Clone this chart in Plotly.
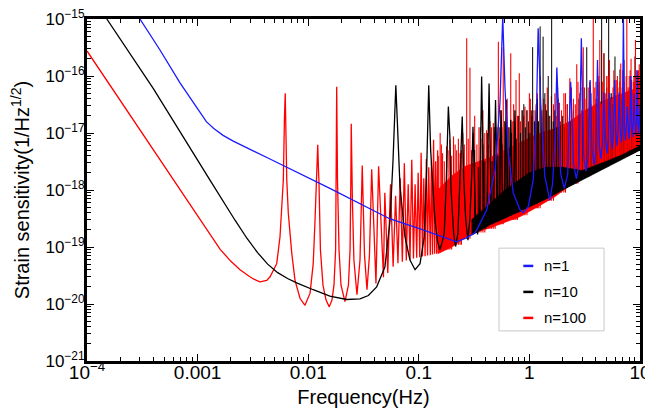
import plotly.graph_objects as go

# ---------------- data ----------------
# n=1 (blue) curve
blue_f = [3.01e-4, 4.57e-4, 6.93e-4, 8.5e-4, 1.05e-3, 1.2e-3, 1.4e-3, 1.7e-3, 2.1e-3, 3.0e-3, 4.37e-3, 0.0157,
          0.055, 0.0984, 0.141, 0.2, 0.22, 0.269, 0.322, 0.334, 0.411, 0.489, 0.542, 0.574,
          0.601, 0.644, 0.714, 0.822, 0.881, 0.977, 1.084, 1.164, 1.20, 1.265, 1.38, 1.53,
          1.62, 1.72, 1.77, 1.92, 2.07, 2.22, 2.36, 2.51, 2.66, 2.81, 2.95, 3.10, 3.25, 3.40,
          3.54, 3.69, 3.84, 3.99, 4.13, 4.28, 4.43, 4.58, 4.72, 4.87, 5.02, 5.17, 5.31, 5.46,
          5.61, 5.76, 5.90, 6.05, 6.20, 6.35, 6.49, 6.64, 6.79, 6.94, 7.08, 7.23, 7.38, 7.53,
          7.67, 7.82, 7.97, 8.12, 8.26, 8.41, 8.56, 8.71, 8.85, 9.00, 9.15, 9.30, 9.44, 9.59,
          9.74, 9.90, 10.0]
blue_h = [1.0e-15, 2.86e-16, 7.6e-17, 4.2e-17, 2.24e-17, 1.58e-17, 1.2e-17, 9.1e-18, 7.2e-18, 5.1e-18, 3.6e-18, 1.07e-18,
          3.1e-19, 2.14e-19, 1.66e-19, 1.29e-19, 1.23e-19, 1.45e-19, 1.78e-19, 2.0e-19, 4.47e-19, 2.24e-18, 3.4e-17, 1.1e-15,
          6.5e-17, 4.5e-18, 8.9e-19, 4.5e-19, 4.0e-19, 5.1e-19, 1.5e-18, 3.4e-17, 6.9e-16, 3.4e-17, 1.7e-18, 6.6e-19,
          1.3e-18, 1.0e-17, 1.41e-16, 1.9e-18, 1.07e-18, 1.9e-18, 7.9e-17, 2.8e-18, 1.58e-18, 2.8e-18, 4.6e-16, 3.8e-18, 2.14e-18, 3.8e-18,
          8.5e-17, 4.9e-18, 2.75e-18, 4.9e-18, 1.9e-16, 6.3e-18, 3.55e-18, 6.3e-18, 5.2e-17, 7.8e-18, 4.4e-18, 7.8e-18, 5.0e-17, 9.3e-18,
          5.25e-18, 9.3e-18, 8.5e-17, 1.07e-17, 6.0e-18, 1.07e-17, 5.2e-17, 1.2e-17, 6.8e-18, 1.2e-17, 1.1e-15, 1.32e-17, 7.4e-18, 1.32e-17,
          2.9e-17, 1.41e-17, 7.9e-18, 1.41e-17, 1.0e-16, 1.51e-17, 8.5e-18, 1.51e-17, 5.0e-17, 1.62e-17, 9.1e-18, 1.62e-17, 1.26e-16, 1.7e-17,
          9.5e-18, 1.7e-17, 3.0e-17]

# n=10 (black) curve, resolved part
black_f = [1.51e-4, 3.98e-4, 1.29e-3, 1.7e-3, 2.18e-3, 2.8e-3, 3.5e-3, 4.3e-3, 5.3e-3, 6.5e-3, 7.87e-3,
           0.0111, 0.0157, 0.0223, 0.0294, 0.035, 0.0416, 0.0494, 0.055, 0.0585, 0.062, 0.0676, 0.075,
           0.0832, 0.0925, 0.1026, 0.112, 0.1178, 0.123, 0.128, 0.131, 0.140, 0.148, 0.155, 0.163,
           0.170, 0.1766, 0.185, 0.191, 0.195, 0.2065, 0.215, 0.226, 0.236, 0.247, 0.255, 0.265,
           0.278, 0.29, 0.30, 0.309, 0.325, 0.34, 0.355, 0.370, 0.388, 0.401, 0.414, 0.432, 0.451,
           0.463, 0.475, 0.494, 0.513, 0.525, 0.537, 0.555, 0.575, 0.586, 0.597, 0.617, 0.637,
           0.648, 0.659, 0.679, 0.70, 0.71, 0.72, 0.740, 0.771]
black_h = [1.0e-15, 6.0e-17, 1.51e-18, 6.3e-19, 2.95e-19, 1.41e-19, 7.9e-20, 5.0e-20, 3.55e-20, 2.8e-20, 2.35e-20,
           1.78e-20, 1.38e-20, 1.2e-20, 1.23e-20, 1.41e-20, 2.0e-20, 4.47e-20, 2.95e-19, 3.4e-18, 6.9e-17, 1.15e-18, 1.51e-19,
           5.9e-20, 4.0e-20, 5.1e-20, 1.51e-19, 2.24e-18, 6.9e-17, 5.0e-18, 2.24e-18, 2.95e-19, 1.23e-19, 8.9e-20, 1.23e-19,
           1.78e-19, 1.15e-18, 2.9e-17, 8.7e-18, 1.15e-18, 1.74e-19, 1.02e-19, 1.74e-19, 2.24e-18, 1.95e-17, 1.6e-18, 3.2e-19,
           1.32e-19, 3.2e-19, 1.6e-18, 1.29e-17, 4.0e-19, 1.66e-19, 4.0e-19, 9.8e-17, 5.0e-19, 2.1e-19, 5.0e-19, 7.4e-17, 5.6e-19,
           2.5e-19, 5.6e-19, 3.8e-17, 6.3e-19, 2.8e-19, 6.3e-19, 2.5e-17, 7.1e-19, 3.2e-19, 7.1e-19, 3.8e-17, 7.9e-19,
           3.5e-19, 7.9e-19, 1.7e-17, 7.9e-19, 3.8e-19, 7.9e-19, 2.5e-17, 4.0e-19]

# n=10 dense region: floor / upper edge of the dark base, and visible spikes
black_band_f = [0.30, 0.45, 0.6, 0.771, 1.0, 1.4, 2.0, 3.0, 5.0, 7.0, 10.0]
black_band_low = [1.6e-19, 2.5e-19, 3.2e-19, 4.0e-19, 5.0e-19, 6.9e-19, 1.0e-18, 1.5e-18, 2.5e-18, 3.5e-18, 5.0e-18]
black_band_high = [3.0e-19, 6.0e-19, 1.0e-18, 1.4e-18, 2.0e-18, 2.5e-18, 2.5e-18, 2.2e-18, 3.2e-18, 4.2e-18, 6.0e-18]
black_spike_f = [0.32, 0.345, 0.36, 0.38, 0.395, 0.42, 0.445, 0.46, 0.48, 0.505,
                 0.52, 0.54, 0.565, 0.60, 0.625, 0.655, 0.69, 0.73, 0.76,
                 0.80, 0.83, 0.86, 0.89, 0.92, 0.95, 0.98, 1.01, 1.04, 1.07,
                 1.11, 1.15, 1.18, 1.21, 1.25, 1.29, 1.33, 1.38, 1.43, 1.48,
                 1.53, 1.59, 1.64, 1.70, 1.76, 1.82, 1.9, 2.0, 2.1, 2.2,
                 2.35, 2.5, 2.65, 2.8, 3.0, 3.15, 3.30, 3.45, 3.6, 3.8,
                 4.0, 4.15, 4.3, 4.5, 4.73, 5.0, 5.21, 5.5, 5.7, 5.94,
                 6.3, 6.59, 6.9, 7.16, 7.6, 8.0, 8.41, 8.7, 9.0, 9.5, 9.8]
black_spike_h = [5.0e-18, 2.5e-18, 1.26e-17, 6.3e-18, 3.2e-18, 1.0e-17, 5.0e-18, 3.2e-18, 1.26e-17, 7.9e-18,
                 4.0e-18, 1.26e-17, 6.3e-18, 1.6e-17, 7.9e-18, 1.26e-17, 1.0e-17, 1.6e-17, 7.9e-18,
                 2.0e-17, 1.0e-17, 2.5e-17, 3.2e-17, 1.26e-17, 2.5e-17, 1.6e-17, 1.0e-17, 2.5e-17, 3.2e-16,
                 1.6e-17, 2.5e-17, 4.0e-17, 1.6e-17, 7.4e-16, 2.0e-17, 4.9e-16, 5.0e-17, 2.5e-17, 1.0e-16,
                 2.0e-17, 1.26e-15, 1.6e-17, 2.5e-17, 1.26e-17, 4.0e-17, 1.6e-17, 2.0e-17, 1.26e-17, 3.2e-17,
                 1.6e-17, 2.5e-17, 1.26e-17, 4.0e-17, 6.3e-17, 1.6e-17, 3.2e-16, 2.0e-17, 5.0e-17, 2.5e-17,
                 4.0e-17, 2.0e-17, 7.9e-17, 1.26e-15, 2.5e-16, 6.3e-17, 1.26e-15, 5.0e-17, 3.2e-17, 2.2e-16,
                 6.3e-17, 1.3e-16, 4.0e-17, 1.9e-16, 5.0e-17, 6.3e-17, 8.5e-17, 4.0e-17, 2.2e-16, 7.9e-17, 5.0e-17]
black_spike_base = [1.8e-19, 1.9e-19, 2.0e-19, 2.1e-19, 2.2e-19, 2.3e-19, 2.5e-19, 2.6e-19, 2.7e-19, 2.8e-19,
                    2.9e-19, 3.0e-19, 3.1e-19, 3.2e-19, 3.3e-19, 3.5e-19, 3.6e-19, 3.8e-19, 3.9e-19,
                    4.0e-19, 4.2e-19, 4.4e-19, 4.5e-19, 4.7e-19, 4.8e-19, 5.0e-19, 5.0e-19, 5.2e-19, 5.3e-19,
                    5.5e-19, 5.7e-19, 5.8e-19, 6.0e-19, 6.2e-19, 6.4e-19, 6.6e-19, 6.8e-19, 7.0e-19, 7.3e-19,
                    7.5e-19, 7.8e-19, 8.1e-19, 8.4e-19, 8.7e-19, 9.0e-19, 9.5e-19, 1.0e-18, 1.05e-18, 1.1e-18,
                    1.2e-18, 1.25e-18, 1.3e-18, 1.4e-18, 1.5e-18, 1.6e-18, 1.65e-18, 1.7e-18, 1.8e-18, 1.9e-18,
                    2.0e-18, 2.1e-18, 2.2e-18, 2.3e-18, 2.4e-18, 2.5e-18, 2.6e-18, 2.8e-18, 2.9e-18, 3.0e-18,
                    3.2e-18, 3.3e-18, 3.5e-18, 3.6e-18, 3.8e-18, 4.0e-18, 4.2e-18, 4.4e-18, 4.5e-18, 4.8e-18, 4.9e-18]

# n=100 (red) curve, resolved part
red_f = [1.0e-4, 3.0e-4, 6.93e-4, 1.05e-3, 1.3e-3, 1.6e-3, 2.0e-3, 2.42e-3, 2.9e-3, 3.19e-3, 3.66e-3, 4.22e-3, 4.52e-3,
         5.19e-3, 5.56e-3, 5.75e-3, 5.96e-3, 6.1e-3, 6.2e-3, 6.4e-3, 6.61e-3, 7.1e-3, 7.6e-3,
         8.43e-3, 9.35e-3, 0.0104, 0.0111, 0.0115, 0.0119, 0.0122, 0.0124, 0.0125, 0.0129,
         0.0136, 0.0145, 0.0155, 0.0164, 0.0171, 0.0177, 0.0179, 0.0181, 0.0184, 0.019,
         0.0198, 0.0215, 0.0231, 0.0239, 0.0243, 0.0245, 0.0251, 0.0259, 0.0276, 0.0294,
         0.0303, 0.0308, 0.0323, 0.034, 0.0358, 0.0375, 0.041, 0.0433, 0.0479, 0.0493,
         0.0524, 0.0555, 0.0586, 0.0617, 0.0648, 0.0679, 0.071, 0.074, 0.0771, 0.0802,
         0.0833, 0.0864, 0.0895, 0.0926, 0.0957, 0.0987, 0.102, 0.105, 0.108, 0.111,
         0.114, 0.117, 0.120, 0.123, 0.127, 0.130, 0.133, 0.136, 0.139, 0.142, 0.145, 0.148, 0.151]
red_h = [2.75e-16, 1.15e-17, 1.0e-18, 2.95e-19, 1.58e-19, 9.1e-20, 5.6e-20, 4.0e-20, 3.1e-20, 2.75e-20, 2.45e-20, 2.6e-20, 3.0e-20,
         5.1e-20, 1.51e-19, 4.47e-19, 1.51e-18, 1.9e-17, 5.0e-17, 1.51e-18, 3.9e-19, 7.8e-20, 2.6e-20,
         1.26e-20, 9.5e-21, 1.55e-20, 5.1e-20, 2.6e-19, 1.15e-18, 6.2e-18, 2.1e-18, 1.51e-18, 8.9e-20,
         2.14e-20, 1.17e-20, 8.9e-21, 1.17e-20, 2.14e-20, 8.9e-20, 1.51e-18, 6.5e-17, 1.51e-18, 8.9e-20,
         2.14e-20, 1.1e-20, 2.14e-20, 8.9e-20, 1.51e-18, 1.45e-17, 6.6e-19, 5.9e-20, 1.45e-20, 5.9e-20,
         6.6e-19, 2.7e-18, 7.2e-20, 1.78e-20, 7.2e-20, 2.3e-18, 2.3e-20, 2.6e-18, 2.95e-20, 8.9e-19,
         3.5e-20, 1.26e-18, 4.5e-20, 7.9e-19, 5.2e-20, 1.6e-18, 5.5e-20, 2.95e-18, 5.8e-20, 1.26e-18,
         6.0e-20, 3.4e-18, 6.3e-20, 1.26e-18, 6.5e-20, 2.0e-18, 6.6e-20, 4.5e-18, 6.8e-20, 1.6e-18,
         6.9e-20, 3.5e-18, 7.1e-20, 2.5e-18, 7.2e-20, 3.2e-18, 7.4e-20, 7.6e-18, 7.6e-20, 3.2e-18, 7.6e-20, 5.0e-18, 7.9e-20]

# n=100 dense region: floor / upper edge of the solid band, and visible spikes
red_band_f = [0.148, 0.2, 0.262, 0.322, 0.45, 0.577, 0.822, 1.17, 1.7, 2.33, 3.2, 4.35, 6.2, 8.0, 10.0]
red_band_low = [7.6e-20, 1.0e-19, 1.45e-19, 1.78e-19, 2.2e-19, 2.6e-19, 3.4e-19, 5.0e-19, 7.6e-19,
                1.2e-18, 1.78e-18, 2.5e-18, 3.6e-18, 4.7e-18, 5.6e-18]
red_band_high = [1.0e-18, 1.8e-18, 2.6e-18, 3.0e-18, 3.8e-18, 4.8e-18, 6.8e-18, 9.5e-18, 1.2e-17,
                 1.6e-17, 2.5e-17, 3.5e-17, 4.5e-17, 5.5e-17, 6.3e-17]
red_spike_f = [0.150, 0.156, 0.160, 0.164, 0.170, 0.178, 0.184, 0.191, 0.198, 0.206,
               0.213, 0.22, 0.228, 0.236, 0.243, 0.25, 0.258, 0.271, 0.28, 0.29,
               0.30, 0.31, 0.32, 0.335, 0.35, 0.365, 0.38, 0.395, 0.41, 0.425,
               0.44, 0.455, 0.472, 0.49, 0.51, 0.524, 0.535, 0.55, 0.565, 0.58,
               0.6, 0.63, 0.65, 0.678, 0.7, 0.72, 0.74, 0.757, 0.78, 0.81,
               0.83, 0.86, 0.89, 0.912, 0.95, 1.0, 1.05, 1.1, 1.15, 1.2,
               1.25, 1.3, 1.4, 1.5, 1.58, 1.65, 1.75, 1.87, 1.95, 2.05,
               2.2, 2.32, 2.5, 2.6, 2.68, 2.85, 2.95, 3.07, 3.25, 3.4,
               3.6, 3.78, 4.0, 4.15, 4.33, 4.5, 4.7, 4.85, 5.0, 5.3,
               5.5, 5.7, 5.9, 6.1, 6.4, 6.7, 6.9, 7.2, 7.4, 7.6,
               7.8, 8.0, 8.3, 8.5, 8.7, 8.9, 9.1, 9.4, 9.7, 9.9,
               1.02, 1.18, 1.35, 1.45, 1.7, 1.8, 2.12, 2.4, 2.75, 3.15,
               3.5, 3.9, 4.25, 4.6, 5.15, 5.8, 6.25, 6.55, 7.0, 7.5,
               8.15, 8.8, 9.25, 9.55, 9.85]
red_spike_h = [4.0e-18, 1.0e-17, 6.3e-18, 4.4e-18, 3.2e-18, 5.8e-18, 5.0e-18, 7.6e-18, 4.0e-18, 8.7e-18,
               6.3e-18, 5.0e-18, 7.9e-18, 4.4e-18, 5.0e-18, 1.0e-17, 6.3e-18, 4.6e-16, 7.9e-18, 1.4e-16,
               5.0e-18, 1.0e-17, 2.0e-17, 6.3e-18, 1.26e-17, 7.9e-18, 2.5e-17, 1.0e-17, 1.12e-17, 6.3e-18,
               1.6e-17, 1.26e-17, 1.5e-17, 1.0e-17, 1.26e-17, 4.0e-16, 7.9e-18, 2.5e-17, 1.26e-17, 3.2e-16,
               1.6e-17, 4.0e-17, 1.26e-17, 2.5e-16, 1.6e-17, 3.2e-17, 1.26e-17, 8.5e-17, 2.0e-17, 1.12e-16,
               1.6e-17, 2.5e-17, 2.0e-17, 2.9e-17, 2.5e-17, 5.0e-17, 2.0e-17, 2.5e-17, 3.2e-17, 1.6e-17,
               1.0e-16, 2.5e-17, 3.2e-17, 2.0e-17, 4.4e-17, 3.2e-17, 2.0e-17, 3.4e-17, 2.5e-17, 5.0e-17,
               3.2e-17, 9.1e-17, 4.0e-17, 3.2e-17, 1.6e-16, 5.0e-17, 2.5e-17, 3.2e-16, 4.0e-17, 6.3e-17,
               3.2e-17, 1.26e-15, 7.9e-17, 4.0e-17, 4.3e-16, 3.2e-17, 2.5e-16, 5.0e-17, 1.0e-16, 1.9e-16,
               4.0e-17, 6.3e-17, 5.0e-17, 8.5e-17, 4.5e-17, 1.66e-16, 6.3e-17, 7.9e-17, 5.0e-17, 1.26e-15,
               6.3e-17, 1.0e-16, 2.0e-16, 5.6e-17, 7.9e-17, 7.9e-17, 4.3e-16, 6.3e-17, 1.26e-16, 7.9e-17,
               4.0e-17, 5.0e-17, 4.0e-17, 6.3e-17, 5.0e-17, 6.3e-17, 5.0e-17, 6.3e-17, 7.9e-17, 6.3e-17,
               7.9e-17, 6.3e-17, 1.0e-16, 7.9e-17, 1.0e-16, 1.26e-16, 1.0e-16, 7.9e-17, 1.26e-16, 1.0e-16,
               1.26e-16, 1.0e-16, 1.26e-16, 1.0e-16, 1.6e-16]
red_spike_base = [8.0e-20, 8.0e-20, 9.0e-20, 9.0e-20, 9.0e-20, 9.0e-20, 9.0e-20, 9.0e-20, 9.0e-20, 1.1e-19,
                  1.1e-19, 1.1e-19, 1.1e-19, 1.1e-19, 1.1e-19, 1.4e-19, 1.4e-19, 1.4e-19, 1.4e-19, 1.4e-19,
                  1.8e-19, 1.8e-19, 1.8e-19, 1.8e-19, 1.8e-19, 1.8e-19, 1.8e-19, 1.8e-19, 2.1e-19, 2.1e-19,
                  2.1e-19, 2.1e-19, 2.1e-19, 2.1e-19, 2.5e-19, 2.5e-19, 2.5e-19, 2.5e-19, 2.5e-19, 2.5e-19,
                  3.0e-19, 3.0e-19, 3.0e-19, 3.0e-19, 3.0e-19, 3.0e-19, 3.0e-19, 3.0e-19, 3.0e-19, 3.6e-19,
                  3.6e-19, 3.6e-19, 3.6e-19, 3.6e-19, 3.6e-19, 4.8e-19, 4.8e-19, 4.8e-19, 4.8e-19, 4.8e-19,
                  4.8e-19, 6.5e-19, 6.5e-19, 6.5e-19, 6.5e-19, 6.5e-19, 9.0e-19, 9.0e-19, 9.0e-19, 9.0e-19,
                  1.3e-18, 1.3e-18, 1.3e-18, 1.3e-18, 1.3e-18, 1.7e-18, 1.7e-18, 1.7e-18, 1.7e-18, 1.7e-18,
                  2.2e-18, 2.2e-18, 2.2e-18, 2.2e-18, 2.2e-18, 3.0e-18, 3.0e-18, 3.0e-18, 3.0e-18, 3.0e-18,
                  3.0e-18, 3.0e-18, 3.0e-18, 3.9e-18, 3.9e-18, 3.9e-18, 3.9e-18, 3.9e-18, 3.9e-18, 3.9e-18,
                  3.9e-18, 5.0e-18, 5.0e-18, 5.0e-18, 5.0e-18, 5.0e-18, 5.0e-18, 5.0e-18, 5.0e-18, 5.0e-18,
                  4.8e-19, 4.8e-19, 6.5e-19, 6.5e-19, 9.0e-19, 9.0e-19, 9.0e-19, 1.3e-18, 1.3e-18, 1.7e-18,
                  2.2e-18, 2.2e-18, 2.2e-18, 3.0e-18, 3.0e-18, 3.0e-18, 3.9e-18, 3.9e-18, 3.9e-18, 3.9e-18,
                  5.0e-18, 5.0e-18, 5.0e-18, 5.0e-18, 5.0e-18]

# axis ticks
x_tick_vals = [1e-4, 1e-3, 1e-2, 1e-1, 1, 10]
x_tick_text = ["10<sup>\u22124</sup>", "0.001", "0.01", "0.1", "1", "10"]
y_tick_vals = [1e-21, 1e-20, 1e-19, 1e-18, 1e-17, 1e-16, 1e-15]
y_tick_text = ["10<sup>\u221221</sup>", "10<sup>\u221220</sup>", "10<sup>\u221219</sup>",
               "10<sup>\u221218</sup>", "10<sup>\u221217</sup>", "10<sup>\u221216</sup>",
               "10<sup>\u221215</sup>"]
series_names = ["n=1", "n=10", "n=100"]
series_colors = ["#1a1aff", "#000000", "#ff0000"]

assert len(red_spike_f) == len(red_spike_h) == len(red_spike_base)
assert len(black_spike_f) == len(black_spike_h) == len(black_spike_base)
assert len(red_f) == len(red_h) and len(black_f) == len(black_h) and len(blue_f) == len(blue_h)

# ---------------- figure ----------------
BLUE, BLACK, RED = series_colors
FONT = "Liberation Sans, Arial, sans-serif"
fig = go.Figure()


def band(fx, lo, hi, color):
    return go.Scatter(x=list(fx) + list(fx)[::-1], y=list(lo) + list(hi)[::-1],
                      mode="lines", fill="toself", fillcolor=color,
                      line=dict(color=color, width=0.6), showlegend=False, hoverinfo="skip")


def spikes(fx, base, top, color, width):
    xs, ys = [], []
    for f, b, t in zip(fx, base, top):
        xs += [f, f, None]
        ys += [b, t, None]
    return go.Scatter(x=xs, y=ys, mode="lines", line=dict(color=color, width=width),
                      showlegend=False, hoverinfo="skip")


# black spikes below 2 Hz sit on top of the red comb, the higher ones underneath
lo_idx = [i for i, f in enumerate(black_spike_f) if f < 2.0]
hi_idx = [i for i, f in enumerate(black_spike_f) if f >= 2.0]

fig.add_trace(band(red_band_f, red_band_low, red_band_high, RED))
fig.add_trace(spikes([black_spike_f[i] for i in hi_idx], [black_spike_base[i] for i in hi_idx],
                     [black_spike_h[i] for i in hi_idx], BLACK, 1.0))
fig.add_trace(spikes(red_spike_f, red_spike_base, red_spike_h, RED, 1.1))
fig.add_trace(band(black_band_f, black_band_low, black_band_high, BLACK))
fig.add_trace(spikes([black_spike_f[i] for i in lo_idx], [black_spike_base[i] for i in lo_idx],
                     [black_spike_h[i] for i in lo_idx], BLACK, 1.0))
fig.add_trace(go.Scatter(x=red_f, y=red_h, mode="lines", name=series_names[2],
                         line=dict(color=RED, width=1.3)))
fig.add_trace(go.Scatter(x=black_f, y=black_h, mode="lines", name=series_names[1],
                         line=dict(color=BLACK, width=1.3)))
fig.add_trace(go.Scatter(x=blue_f, y=blue_h, mode="lines", name=series_names[0],
                         line=dict(color=BLUE, width=1.3)))

minor_x = [m * 10.0 ** e for e in range(-4, 1) for m in range(2, 10)]
minor_y = [m * 10.0 ** e for e in range(-21, -15) for m in range(2, 10)]

axis_common = dict(type="log", ticks="inside", ticklen=7, tickwidth=1, tickcolor="black",
                   showline=True, linewidth=3, linecolor="black", mirror="allticks",
                   showgrid=False, zeroline=False, tickmode="array", automargin=False,
                   ticklabeloverflow="allow")

fig.update_xaxes(range=[-4, 1], tickvals=x_tick_vals, ticktext=x_tick_text,
                 tickfont=dict(size=19, color="black", family=FONT), ticklabelstandoff=-8,
                 minor=dict(tickmode="array", tickvals=minor_x, ticks="inside", ticklen=4,
                            tickcolor="black", showgrid=False),
                 title=dict(text="Frequency(Hz)", standoff=9,
                            font=dict(size=20, color="black", family=FONT)),
                 **axis_common)
fig.update_yaxes(range=[-21, -15], tickvals=y_tick_vals, ticktext=y_tick_text,
                 tickfont=dict(size=17, color="black", family=FONT), ticklabelstandoff=-4,
                 minor=dict(tickmode="array", tickvals=minor_y, ticks="inside", ticklen=4,
                            tickcolor="black", showgrid=False),
                 title=dict(text="Strain sensitivity(1/Hz<sup>1/2</sup>)", standoff=15,
                            font=dict(size=20, color="black", family=FONT)),
                 **axis_common)

# legend drawn as a boxed key inside the plot
shapes = [dict(type="rect", xref="paper", yref="paper", x0=0.745, x1=0.935, y0=0.088, y1=0.330,
               line=dict(color="#c8c8c8", width=1), fillcolor="white", layer="above")]
annotations = []
rows_y = [0.278, 0.202, 0.126]
for name, color, yy in zip(series_names, series_colors, rows_y):
    shapes.append(dict(type="line", xref="paper", yref="paper", x0=0.789, x1=0.807, y0=yy, y1=yy,
                       line=dict(color=color, width=2.5), layer="above"))
    annotations.append(dict(x=0.822, y=yy, xref="paper", yref="paper", text=name, showarrow=False,
                            xanchor="left", yanchor="middle",
                            font=dict(size=15, color="black", family=FONT)))

# the page body adds an 8 px margin, so the figure is 8 px smaller and margins shifted
fig.update_layout(width=645, height=405, margin=dict(l=79, r=13, t=11, b=52),
                  paper_bgcolor="white", plot_bgcolor="white", showlegend=False,
                  font=dict(family=FONT, size=16, color="black"),
                  shapes=shapes, annotations=annotations)

fig.write_html("out.html")
